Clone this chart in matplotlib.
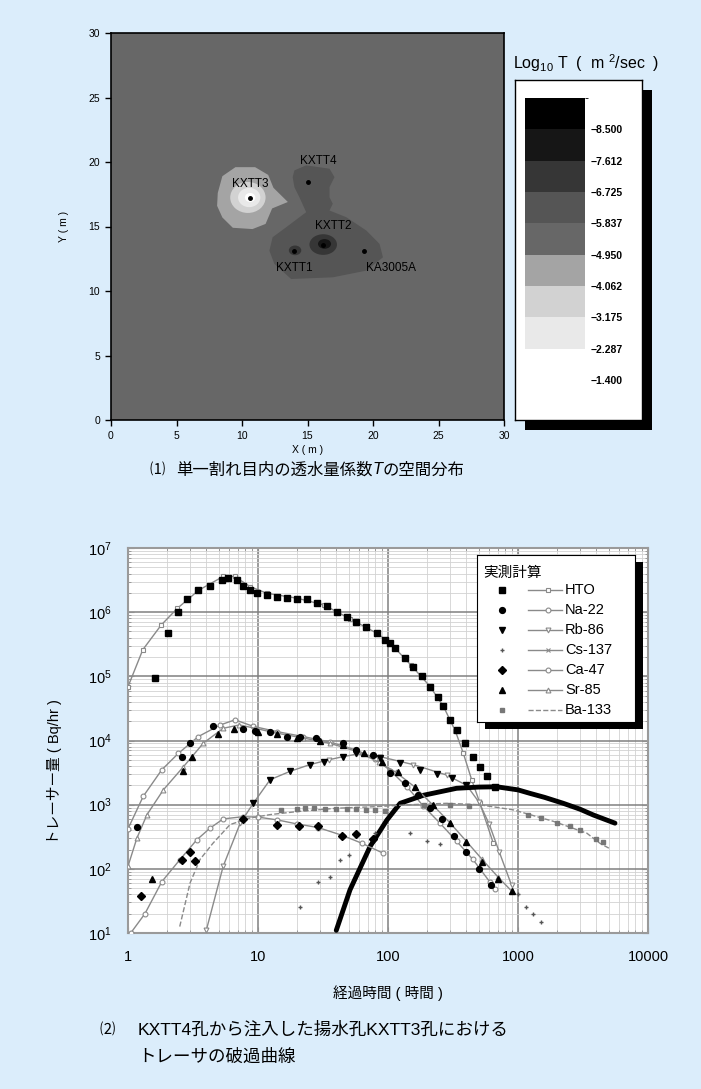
import matplotlib.pyplot as plt
import matplotlib.cm as cm
from matplotlib.colors import ListedColormap, BoundaryNorm
from matplotlib.patches import Ellipse, Rectangle

plt.rcParams['font.family'] = ['Liberation Sans', 'Noto Sans CJK JP', 'DejaVu Sans']
plt.rcParams['mathtext.fontset'] = 'custom'
plt.rcParams['mathtext.rm'] = 'Liberation Sans'
plt.rcParams['mathtext.it'] = 'Liberation Sans:italic'

# ---------------- (1) transmissivity map data ----------------
logt_bounds = [-9.3875, -8.500, -7.6125, -6.725, -5.8375, -4.950, -4.0625, -3.175, -2.2875, -1.400]
logt_labels = ['−8.500', '−7.612', '−6.725', '−5.837', '−4.950', '−4.062', '−3.175', '−2.287', '−1.400']
band_colors = ['#000000', '#161616', '#363636', '#555555', '#676767',
               '#a4a4a4', '#d2d2d2', '#e9e9e9', '#ffffff']
background_level = 4

# low-T zone around KXTT4 / KXTT2 / KXTT1 / KA3005A
zone_x = [14.0, 14.9, 16.68, 17.06, 16.68, 16.68, 16.93, 16.68, 17.96, 19.49, 20.5, 20.76,
          19.49, 16.93, 13.75, 12.47, 12.09, 12.34, 13.37, 14.9, 14.38, 14.0, 13.87]
zone_y = [19.35, 19.74, 19.48, 18.83, 18.05, 17.27, 16.76, 16.24, 15.72, 14.69, 13.65, 12.61,
          11.58, 11.06, 10.93, 12.1, 13.13, 14.17, 14.94, 16.11, 17.27, 18.05, 18.83]
zone_level = 3

# high-T halo around KXTT3
halo_x = [8.15, 8.5, 9.5, 11.0, 12.0, 12.4, 13.5, 12.3, 11.8, 10.8, 9.3, 8.5, 8.1]
halo_y = [17.6, 18.9, 19.6, 19.6, 19.0, 18.0, 16.9, 16.4, 15.2, 14.8, 14.9, 15.7, 16.6]
halo_level = 5

# elliptical spots: centre, size, level
spot_x = [10.45, 10.55, 10.62, 16.2, 16.3, 14.05]
spot_y = [17.25, 17.25, 17.25, 13.6, 13.65, 13.15]
spot_w = [2.7, 1.7, 0.8, 2.1, 1.0, 0.95]
spot_h = [2.4, 1.5, 0.7, 1.6, 0.75, 0.75]
spot_level = [6, 7, 8, 2, 1, 2]

wells = ['KXTT1', 'KXTT2', 'KXTT3', 'KXTT4', 'KA3005A']
well_x = [14.0, 16.2, 10.63, 15.07, 19.28]
well_y = [13.1, 13.6, 17.22, 18.44, 13.1]

# ---------------- (2) breakthrough curves ----------------
tracers = ['HTO', 'Na-22', 'Rb-86', 'Cs-137', 'Ca-47', 'Sr-85', 'Ba-133']

hto_calc_t = [1.0, 1.3, 1.8, 2.4, 3.5, 5.4, 6.6, 8.7, 11.7, 20, 32, 51, 82, 104, 150, 210, 267,
              330, 380, 440, 510, 646]
hto_calc_q = [6.9e4, 2.6e5, 6.3e5, 1.15e6, 2.2e6, 3.6e6, 3.6e6, 2.5e6, 1.97e6, 1.65e6, 1.3e6,
              7.9e5, 4.7e5, 3.3e5, 1.5e5, 7.0e4, 3.4e4, 1.4e4, 6.3e3, 2.45e3, 1.05e3, 250]
hto_meas_t = [1.6, 2.04, 2.44, 2.86, 3.47, 4.27, 5.25, 5.9, 6.9, 7.7, 8.7, 9.9, 11.7, 13.9, 16.6,
              19.9, 23.8, 28.3, 33.8, 40.3, 48, 57, 68, 82, 95, 104, 113, 135, 157, 182, 210,
              244, 267, 300, 337, 391, 453, 510, 574, 661]
hto_meas_q = [9.5e4, 4.7e5, 1.02e6, 1.6e6, 2.2e6, 2.6e6, 3.2e6, 3.4e6, 3.2e6, 2.6e6, 2.2e6,
              2.0e6, 1.85e6, 1.7e6, 1.65e6, 1.6e6, 1.58e6, 1.38e6, 1.23e6, 1.02e6, 8.5e5, 7e5,
              5.8e5, 4.7e5, 3.7e5, 3.3e5, 2.8e5, 1.9e5, 1.42e5, 1.0e5, 6.9e4, 4.8e4, 3.4e4,
              2.1e4, 1.46e4, 9.1e3, 5.6e3, 3.9e3, 2.8e3, 1.9e3]

na_calc_t = [1.0, 1.31, 1.82, 2.44, 3.47, 5.1, 6.65, 9.2, 13.9, 22.3, 35.8, 57, 80, 104, 140,
             187, 250, 337, 450, 609, 665]
na_calc_q = [420, 1.35e3, 3.5e3, 6.3e3, 1.15e4, 1.74e4, 2.1e4, 1.66e4, 1.38e4, 1.15e4, 9.5e3,
             7.1e3, 5.2e3, 3.4e3, 1.9e3, 950, 520, 270, 140, 62, 48]
na_meas_t = [1.17, 2.59, 3.0, 4.53, 7.7, 9.5, 12.4, 16.6, 21, 28, 45, 57, 77, 104, 135, 170,
             210, 260, 320, 400, 500, 620]
na_meas_q = [450, 5.6e3, 9.1e3, 1.66e4, 1.5e4, 1.4e4, 1.38e4, 1.15e4, 1.15e4, 1.1e4, 9.0e3,
             7.1e3, 5.9e3, 3.1e3, 2.2e3, 1.4e3, 900, 600, 330, 180, 100, 55]

rb_calc_t = [4.0, 5.4, 7.3, 9.2, 12.4, 17.6, 25, 35, 45, 57, 87, 157, 282, 403, 500, 600, 720, 894]
rb_calc_q = [11, 110, 515, 1.05e3, 2.45e3, 3.3e3, 4.2e3, 5.0e3, 5.6e3, 6.1e3, 5.6e3, 4.2e3,
             2.9e3, 2.0e3, 1.1e3, 500, 180, 55]
rb_meas_t = [9.2, 12.4, 17.6, 25, 32, 45, 57, 87, 124, 176, 240, 309, 400]
rb_meas_q = [1.05e3, 2.45e3, 3.3e3, 4.2e3, 4.6e3, 5.6e3, 6.3e3, 5.4e3, 4.5e3, 3.5e3, 3.0e3,
             2.6e3, 2.0e3]

cs_calc_t = [40, 51, 73, 98, 124, 187, 337, 500, 686, 1000, 1237, 1600, 2230, 3000, 3800, 5570]
cs_calc_q = [11, 47, 225, 575, 1.05e3, 1.4e3, 1.8e3, 1.88e3, 1.9e3, 1.7e3, 1.5e3, 1.3e3,
             1.05e3, 850, 690, 515]
cs_meas_t = [21, 28.7, 35.8, 43, 50, 79, 148, 200, 250, 1000, 1150, 1300, 1500]
cs_meas_q = [25, 63, 75, 138, 165, 360, 360, 275, 240, 40, 25, 20, 15]

ca_calc_t = [1.05, 1.35, 1.82, 2.5, 3.38, 4.27, 5.4, 7.7, 10, 14, 20, 29, 45, 63, 92]
ca_calc_q = [10, 20, 63, 138, 283, 430, 600, 650, 640, 580, 500, 440, 330, 250, 175]
ca_meas_t = [1.27, 2.6, 3.0, 3.3, 7.7, 13.9, 20.6, 28.7, 44, 57, 77]
ca_meas_q = [38, 138, 186, 133, 600, 490, 470, 470, 320, 350, 290]

sr_calc_t = [1.0, 1.17, 1.4, 1.87, 2.67, 3.8, 5.4, 7.2, 9.5, 14, 22, 36, 57, 85, 115, 160, 220,
             300, 400, 530, 700, 894]
sr_calc_q = [110, 300, 700, 1.7e3, 3.9e3, 9.1e3, 1.55e4, 1.75e4, 1.55e4, 1.3e4, 1.1e4, 9.0e3,
             6.8e3, 4.6e3, 3.2e3, 1.9e3, 1.0e3, 520, 270, 140, 75, 45]
sr_meas_t = [1.52, 2.67, 3.1, 4.9, 6.5, 10, 14, 20, 30, 45, 65, 90, 120, 160, 220, 300, 400,
             530, 700, 894]
sr_meas_q = [70, 3.3e3, 5.6e3, 1.26e4, 1.5e4, 1.35e4, 1.25e4, 1.1e4, 1.0e4, 8.5e3, 6.5e3,
             4.6e3, 3.2e3, 1.9e3, 1.0e3, 520, 260, 130, 70, 45]

ba_calc_t = [2.5, 3.0, 3.58, 4.5, 6.1, 8.7, 12.4, 20, 40, 80, 150, 282, 500, 920, 1870, 3380,
             4270, 5000]
ba_calc_q = [12.6, 60, 140, 250, 490, 620, 700, 780, 880, 930, 1000, 1050, 1000, 830, 550, 360,
             250, 210]
ba_meas_t = [15, 20, 23, 27, 33, 40, 48, 57, 68, 80, 95, 190, 300, 420, 1200, 1500, 2000, 2500,
             3000, 4000, 4500]
ba_meas_q = [820, 870, 890, 880, 860, 850, 850, 850, 840, 830, 800, 1000, 1000, 950, 700, 620,
             520, 460, 400, 290, 260]

calc_t = [hto_calc_t, na_calc_t, rb_calc_t, cs_calc_t, ca_calc_t, sr_calc_t, ba_calc_t]
calc_q = [hto_calc_q, na_calc_q, rb_calc_q, cs_calc_q, ca_calc_q, sr_calc_q, ba_calc_q]
meas_t = [hto_meas_t, na_meas_t, rb_meas_t, cs_meas_t, ca_meas_t, sr_meas_t, ba_meas_t]
meas_q = [hto_meas_q, na_meas_q, rb_meas_q, cs_meas_q, ca_meas_q, sr_meas_q, ba_meas_q]

# styles
meas_marker = ['s', 'o', 'v', '+', 'D', '^', 's']
meas_size = [3.8, 4.2, 4.2, 3, 3.8, 4.2, 3]
meas_color = ['black', 'black', 'black', '#555555', 'black', 'black', '#777777']
calc_marker = ['s', 'o', 'v', 'x', 'o', '^', '']
calc_ls = ['-', '-', '-', '-', '-', '-', '--']

BG = '#dbedfb'
W, H = 701, 1089
fig = plt.figure(figsize=(W / 100, H / 100), dpi=100, facecolor=BG)


def px_rect(x0, y0, x1, y1):
    return [x0 / W, 1 - y1 / H, (x1 - x0) / W, (y1 - y0) / H]


def chain_text(x_px, y_px, parts, **kw):
    # draw text pieces one after another on one baseline
    renderer = fig.canvas.get_renderer()
    x = x_px / W
    for s, style in parts:
        t = fig.text(x, 1 - y_px / H, s, style=style, va='center', **kw)
        bb = t.get_window_extent(renderer)
        x = fig.transFigure.inverted().transform((bb.x1, bb.y1))[0]


# ================= panel (1) =================
ax1 = fig.add_axes(px_rect(111, 33, 504, 420))
ax1.set_facecolor(band_colors[background_level])
ax1.set_xlim(0, 30)
ax1.set_ylim(0, 30)
ax1.fill(halo_x, halo_y, color=band_colors[halo_level], lw=0)
ax1.fill(zone_x, zone_y, color=band_colors[zone_level], lw=0)
for x, y, w, h, lev in zip(spot_x, spot_y, spot_w, spot_h, spot_level):
    ax1.add_patch(Ellipse((x, y), w, h, color=band_colors[lev], lw=0))
ax1.plot(well_x, well_y, 'o', color='black', ms=2.5)
label_pos = {'KXTT1': (14.0, 11.8), 'KXTT2': (17.0, 15.05), 'KXTT3': (10.6, 18.3),
             'KXTT4': (15.8, 20.1), 'KA3005A': (21.4, 11.8)}
for name in wells:
    ax1.text(*label_pos[name], name, fontsize=8.5, ha='center', va='center', color='black')
ax1.set_xticks(range(0, 31, 5))
ax1.set_yticks(range(0, 31, 5))
ax1.tick_params(direction='out', length=4, width=1, labelsize=7.5, pad=4)
for sp in ax1.spines.values():
    sp.set_linewidth(1.2)
ax1.set_xlabel('X ( m )', fontsize=7.5, labelpad=3)
ax1.set_ylabel('Y ( m )', fontsize=7.5, labelpad=14)

# colour scale box with shadow
fig.add_artist(Rectangle((525 / W, 1 - 430 / H), 127 / W, 340 / H,
                         transform=fig.transFigure, facecolor='black', zorder=4))
box = fig.add_axes(px_rect(515, 80, 642, 420), zorder=5)
box.set_xticks([])
box.set_yticks([])
box.set_facecolor('white')
for sp in box.spines.values():
    sp.set_linewidth(1)
cax = fig.add_axes(px_rect(525, 98, 585, 380), zorder=6)
cmap = ListedColormap(band_colors)
norm = BoundaryNorm(logt_bounds, cmap.N)
cb = fig.colorbar(cm.ScalarMappable(norm=norm, cmap=cmap), cax=cax, ticks=logt_bounds[1:])
cax.invert_yaxis()
cb.ax.set_yticklabels(logt_labels)
cb.outline.set_visible(False)
cax.tick_params(length=0, labelsize=7.5, pad=4)
for t in cax.get_yticklabels():
    t.set_fontweight('bold')
fig.text(513 / W, 1 - 63 / H, 'Log$_{10}$ T  (  m $^{2}$/sec  )', fontsize=11.5, va='center')

fig.text(150 / W, 1 - 470 / H, '⑴', fontsize=11, va='center')
chain_text(176, 470, [('単一割れ目内の透水量係数', 'normal'), ('T', 'italic'),
                      ('の空間分布', 'normal')], fontsize=11.8)

# ================= panel (2) =================
ax2 = fig.add_axes(px_rect(128, 548, 648, 933))
ax2.set_facecolor('white')
ax2.set_xscale('log')
ax2.set_yscale('log')
ax2.set_xlim(1, 1e4)
ax2.set_ylim(10, 1e7)
ax2.grid(which='major', color='#808080', lw=1.1)
ax2.grid(which='minor', color='#d2d2d2', lw=0.6)
ax2.set_axisbelow(True)

for i, name in enumerate(tracers):
    if name == 'Cs-137':
        ax2.plot(calc_t[i], calc_q[i], color='black', lw=3.5, solid_capstyle='round', zorder=3)
    else:
        ax2.plot(calc_t[i], calc_q[i], ls=calc_ls[i], color='#8a8a8a', lw=1.0,
                 marker=calc_marker[i] or None, ms=3.5, mfc='white', mec='#8a8a8a', mew=0.8,
                 zorder=3)
    ax2.plot(meas_t[i], meas_q[i], ls='none', marker=meas_marker[i], ms=meas_size[i],
             color=meas_color[i], mew=1.0, zorder=4)

ax2.set_xticks([1, 10, 100, 1000, 10000])
ax2.set_xticklabels(['1', '10', '100', '1000', '10000'])
ax2.tick_params(which='both', direction='in', top=True, right=True, color='#909090')
ax2.tick_params(which='major', length=4, labelsize=10.5, pad=12)
ax2.tick_params(which='minor', length=2)
for sp in ax2.spines.values():
    sp.set_color('#9a9a9a')
    sp.set_linewidth(1.5)
ax2.set_xlabel('経過時間 ( 時間 )', fontsize=10.5)
ax2.xaxis.set_label_coords(0.5, -0.135)
ax2.set_ylabel('トレーサー量 ( Bq/hr )', fontsize=10.5)
ax2.yaxis.set_label_coords(-0.127, 0.42)

# legend box with shadow
fig.add_artist(Rectangle((485 / W, 1 - 729 / H), 158 / W, 167 / H,
                         transform=fig.transFigure, facecolor='black', zorder=4))
lax = fig.add_axes(px_rect(477, 555, 635, 722), zorder=5)
lax.set_xlim(477, 635)
lax.set_ylim(722, 555)
lax.set_xticks([])
lax.set_yticks([])
for sp in lax.spines.values():
    sp.set_linewidth(0.8)
lax.text(483, 573, '実測計算', fontsize=10.5, va='center')
row_y = [590, 610, 630, 650, 670, 690, 710]
for i, name in enumerate(tracers):
    y = row_y[i]
    lax.plot([502], [y], ls='none', marker=meas_marker[i], ms=meas_size[i], color=meas_color[i])
    lax.plot([528, 562], [y, y], ls=calc_ls[i], color='#8a8a8a', lw=1.0)
    if calc_marker[i]:
        lax.plot([548], [y], ls='none', marker=calc_marker[i], ms=3.5, mfc='white',
                 mec='#8a8a8a', mew=0.8)
    lax.text(565, y, name, fontsize=10.5, va='center')

fig.text(100 / W, 1 - 1030 / H, '⑵', fontsize=11, va='center')
fig.text(138 / W, 1 - 1030 / H, 'KXTT4孔から注入した揚水孔KXTT3孔における', fontsize=12.6,
         va='center')
fig.text(138 / W, 1 - 1057 / H, 'トレーサの破過曲線', fontsize=12.6, va='center')

fig.savefig('out.png', dpi=100, facecolor=BG)
